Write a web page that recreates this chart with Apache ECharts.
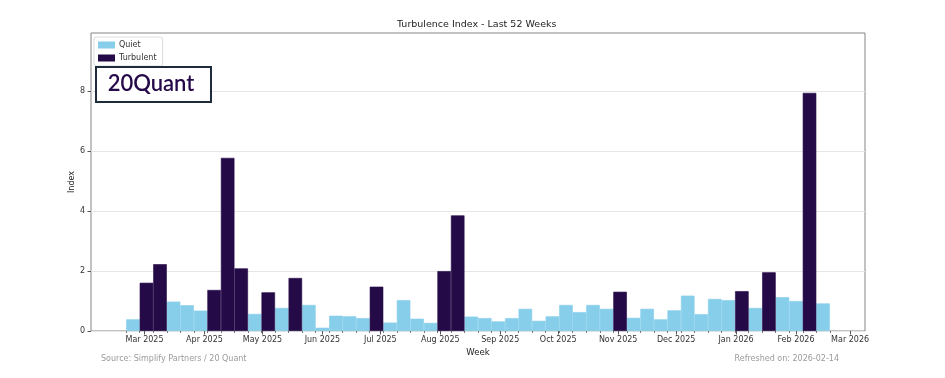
<!DOCTYPE html>
<html lang="en">
<head>
<meta charset="utf-8" />
<title>Turbulence Index - Last 52 Weeks</title>
<style>
  html, body { margin: 0; padding: 0; background: #ffffff; }
  #main { width: 945px; height: 378px; }
</style>
</head>
<body>
<div id="main"></div>
<script src="https://cdn.jsdelivr.net/npm/echarts@6/dist/echarts.min.js"></script>
<script>
// weekly dates (week ending Sunday)
const weeks = [
  '2025-02-23', '2025-03-02', '2025-03-09', '2025-03-16', '2025-03-23', '2025-03-30',
  '2025-04-06', '2025-04-13', '2025-04-20', '2025-04-27', '2025-05-04', '2025-05-11',
  '2025-05-18', '2025-05-25', '2025-06-01', '2025-06-08', '2025-06-15', '2025-06-22',
  '2025-06-29', '2025-07-06', '2025-07-13', '2025-07-20', '2025-07-27', '2025-08-03',
  '2025-08-10', '2025-08-17', '2025-08-24', '2025-08-31', '2025-09-07', '2025-09-14',
  '2025-09-21', '2025-09-28', '2025-10-05', '2025-10-12', '2025-10-19', '2025-10-26',
  '2025-11-02', '2025-11-09', '2025-11-16', '2025-11-23', '2025-11-30', '2025-12-07',
  '2025-12-14', '2025-12-21', '2025-12-28', '2026-01-04', '2026-01-11', '2026-01-18',
  '2026-01-25', '2026-02-01', '2026-02-08', '2026-02-15'
];

// index value per week, null where the other regime applies
const quiet = [
  0.39, null, null, 0.98, 0.86, 0.68, null, null, null, 0.57, null, 0.77,
  null, 0.87, 0.11, 0.51, 0.49, 0.43, null, 0.28, 1.03, 0.41, 0.27, null,
  null, 0.48, 0.43, 0.32, 0.43, 0.74, 0.34, 0.49, 0.87, 0.63, 0.87, 0.74,
  null, 0.44, 0.74, 0.39, 0.69, 1.18, 0.56, 1.07, 1.03, null, 0.77, null,
  1.13, 1.00, null, 0.92
];
const turbulent = [
  null, 1.61, 2.23, null, null, null, 1.37, 5.78, 2.09, null, 1.29, null,
  1.77, null, null, null, null, null, 1.48, null, null, null, null, 2.00,
  3.86, null, null, null, null, null, null, null, null, null, null, null,
  1.31, null, null, null, null, null, null, null, null, 1.33, null, 1.96,
  null, null, 7.95, null
];

// major x ticks (month starts)
const monthTicks = [
  '2025-03-01', '2025-04-01', '2025-05-01', '2025-06-01', '2025-07-01', '2025-08-01',
  '2025-09-01', '2025-10-01', '2025-11-01', '2025-12-01', '2026-01-01', '2026-02-01',
  '2026-03-01'
];
const yTicks = [0, 2, 4, 6, 8];
const monthNames = ['Jan', 'Feb', 'Mar', 'Apr', 'May', 'Jun', 'Jul', 'Aug', 'Sep', 'Oct', 'Nov', 'Dec'];

const toMs = s => echarts.time.parse(s).getTime();
const DAY = 86400000;
const xMin = toMs('2025-02-01 07:12');
const xMax = toMs('2026-03-08 16:48');
// minor ticks sit on the bar edges
const weekEdges = weeks.map(w => toMs(w) - 3.5 * DAY).concat([toMs(weeks[weeks.length - 1]) + 3.5 * DAY]);

const quietColor = '#87ceeb';
const turbColor = '#250a48';
const font = 'DejaVu Sans';

const chart = echarts.init(document.getElementById('main'));
chart.setOption({
  backgroundColor: '#ffffff',
  animation: false,
  textStyle: { fontFamily: font },
  title: {
    text: 'Turbulence Index - Last 52 Weeks',
    left: 397,
    top: 20,
    padding: 0,
    textStyle: { fontSize: 9.5, fontWeight: 'normal', color: '#222', fontFamily: font }
  },
  legend: {
    data: ['Quiet', 'Turbulent'],
    orient: 'vertical',
    left: 94,
    top: 37,
    icon: 'rect',
    itemWidth: 15,
    itemHeight: 5,
    itemGap: 3,
    padding: [3, 6, 3, 4],
    borderColor: '#dddddd',
    borderWidth: 1,
    borderRadius: 2,
    backgroundColor: 'rgba(255,255,255,0.8)',
    textStyle: { fontSize: 8, color: '#333', lineHeight: 10, fontFamily: font }
  },
  grid: {
    left: 91, right: 80, top: 33, bottom: 47,
    show: true, borderColor: '#858585', borderWidth: 1, backgroundColor: 'transparent'
  },
  xAxis: [
    {
      type: 'value',
      position: 'bottom',
      min: xMin,
      max: xMax,
      name: 'Week',
      nameLocation: 'middle',
      nameGap: 17,
      nameMoveOverlap: false,
      nameTextStyle: { fontSize: 8.5, color: '#222', fontFamily: font },
      axisLine: { show: false },
      axisTick: {
        customValues: monthTicks.map(toMs),
        length: 3.5,
        lineStyle: { color: '#555' }
      },
      axisLabel: {
        customValues: monthTicks.map(toMs),
        fontSize: 8,
        color: '#333',
        margin: 5,
        hideOverlap: false,
        formatter: v => {
          const d = new Date(v);
          return monthNames[d.getMonth()] + ' ' + d.getFullYear();
        }
      },
      splitLine: { show: false }
    },
    {
      type: 'value',
      position: 'bottom',
      min: xMin,
      max: xMax,
      axisLine: { show: false },
      axisTick: {
        customValues: weekEdges,
        length: 2,
        lineStyle: { color: '#777' }
      },
      axisLabel: { show: false },
      splitLine: { show: false }
    }
  ],
  yAxis: {
    type: 'value',
    min: 0,
    max: 9.95,
    interval: 2,
    name: 'Index',
    nameLocation: 'middle',
    nameGap: 15,
    nameMoveOverlap: false,
    nameTextStyle: { fontSize: 8, color: '#222', fontFamily: font },
    axisLine: { show: false },
    axisTick: { show: true, customValues: yTicks, length: 3.5, lineStyle: { color: '#555' } },
    axisLabel: { customValues: yTicks, fontSize: 8, color: '#333', margin: 6 },
    splitLine: { lineStyle: { color: '#e6e6e6', width: 1 } }
  },
  series: [
    {
      name: 'Quiet',
      type: 'bar',
      xAxisIndex: 0,
      barWidth: '100%',
      barGap: '-100%',
      itemStyle: { color: quietColor, borderColor: quietColor, borderWidth: 0.6 },
      data: weeks.map((w, i) => [toMs(w), quiet[i] == null ? '-' : quiet[i]])
    },
    {
      name: 'Turbulent',
      type: 'bar',
      xAxisIndex: 0,
      barWidth: '100%',
      barGap: '-100%',
      itemStyle: { color: turbColor, borderColor: turbColor, borderWidth: 0.6 },
      data: weeks.map((w, i) => [toMs(w), turbulent[i] == null ? '-' : turbulent[i]])
    }
  ],
  graphic: [
    {
      type: 'rect',
      left: 95,
      top: 66,
      z: 100,
      shape: { width: 115, height: 35 },
      style: { fill: '#ffffff', stroke: '#1d2b3b', lineWidth: 2 }
    },
    {
      type: 'text',
      x: 151,
      y: 84,
      z: 101,
      style: {
        text: '20Quant',
        fill: '#26094a',
        font: '600 22px Lato',
        textAlign: 'center',
        textVerticalAlign: 'middle'
      }
    },
    {
      type: 'text',
      x: 101,
      y: 359,
      style: {
        text: 'Source: Simplify Partners / 20 Quant',
        fill: '#9a9a9a',
        font: '8px "DejaVu Sans"',
        textAlign: 'left',
        textVerticalAlign: 'middle'
      }
    },
    {
      type: 'text',
      x: 839,
      y: 359,
      style: {
        text: 'Refreshed on: 2026-02-14',
        fill: '#9a9a9a',
        font: '8px "DejaVu Sans"',
        textAlign: 'right',
        textVerticalAlign: 'middle'
      }
    }
  ]
});
</script>
</body>
</html>
